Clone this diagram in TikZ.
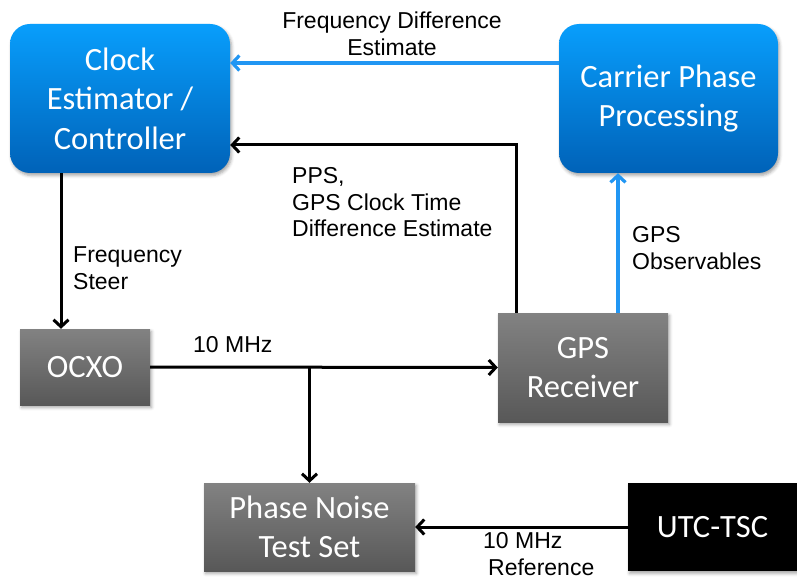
\documentclass[tikz,border=0pt]{standalone}
\usepackage{fontspec}
\setmainfont{Carlito}
\newfontfamily\lblfont{Liberation Sans}
\usetikzlibrary{arrows.meta,shadows.blur}

\definecolor{blueTop}{RGB}{8,158,252}
\definecolor{blueBot}{RGB}{0,98,184}
\definecolor{grayTop}{RGB}{130,130,130}
\definecolor{grayBot}{RGB}{88,88,88}
\definecolor{linkBlue}{RGB}{33,150,243}

\tikzset{
  boxshadow/.style={blur shadow={shadow xshift=1.5pt, shadow yshift=-2.5pt,
      shadow opacity=35, shadow blur radius=3pt}},
  bluebox/.style={boxshadow, rounded corners=20pt, top color=blueTop,
      bottom color=blueBot, draw=none, text=white, align=center,
      font=\fontsize{32.5}{39.5}\selectfont, inner sep=0pt},
  graybox/.style={boxshadow, top color=grayTop, bottom color=grayBot,
      draw=none, text=white, align=center,
      font=\fontsize{32.5}{39.5}\selectfont, inner sep=0pt},
  blackbox/.style={boxshadow, fill=black, draw=none, text=white, align=center,
      font=\fontsize{32.5}{39.5}\selectfont, inner sep=0pt},
  lbl/.style={font=\lblfont\fontsize{23}{26.5}\selectfont, inner sep=0pt},
  blackarrow/.style={line width=3pt, black,
      -{Straight Barb[length=7pt,width=15pt]}},
  bluearrow/.style={line width=3.2pt, linkBlue,
      -{Straight Barb[length=7pt,width=15pt]}}
}

\begin{document}
\begin{tikzpicture}[x=1pt,y=-1pt]
  \useasboundingbox (0,0) rectangle (797,580);

  % processing blocks
  \node[bluebox, minimum width=220pt, minimum height=149pt] (clock)
    at (120,98.5) {Clock\\Estimator /\\Controller};
  \node[bluebox, minimum width=219pt, minimum height=149pt] (carrier)
    at (668.5,98.5) {Carrier Phase\\Processing};

  % hardware blocks
  \node[graybox, minimum width=130pt, minimum height=76pt] (ocxo)
    at (85,367) {OCXO};
  \node[graybox, minimum width=170pt, minimum height=109pt] (gps)
    at (583,367.5) {GPS\\Receiver};
  \node[graybox, minimum width=211pt, minimum height=88pt] (pn)
    at (309.5,527) {Phase Noise\\Test Set};
  \node[blackbox, minimum width=169pt, minimum height=88pt] (utc)
    at (712.5,527) {UTC-TSC};

  % helper coordinates for offset connector legs
  \coordinate (fdy) at (0,63);
  \coordinate (ppsx) at (516,0);
  \coordinate (ppsy) at (0,145);
  \coordinate (obsx) at (618,0);
  \coordinate (stx) at (61,0);

  % connectors
  \draw[bluearrow] (carrier.west |- fdy) -- (clock.east |- fdy);
  \draw[blackarrow] (gps.north -| ppsx) -- (ppsx |- ppsy) -- (clock.east |- ppsy);
  \draw[bluearrow] (gps.north -| obsx) -- (carrier.south -| obsx);
  \draw[blackarrow] (clock.south -| stx) -- (ocxo.north -| stx);
  \draw[blackarrow] (ocxo.east) -- (gps.west);
  \draw[blackarrow] (ocxo.east -| pn.north) -- (pn.north);
  \draw[blackarrow] (utc.west) -- (pn.east);

  % connector labels
  \node[lbl, align=center] (lfd) at (392,34) {Frequency Difference\\Estimate};
  \node[lbl, align=left, anchor=west] (lpps) at (292,202.5)
    {PPS,\\GPS Clock Time\\Difference Estimate};
  \node[lbl, align=left, anchor=west] (lobs) at (632,248)
    {GPS\\Observables};
  \node[lbl, align=left, anchor=west] (lst) at (73,268)
    {Frequency\\Steer};
  \node[lbl, anchor=west] (l10) at (193,345) {10 MHz};
  \node[lbl, align=left, anchor=west] (lref) at (483,554)
    {10 MHz\\\hspace*{5pt}Reference};
\end{tikzpicture}
\end{document}
